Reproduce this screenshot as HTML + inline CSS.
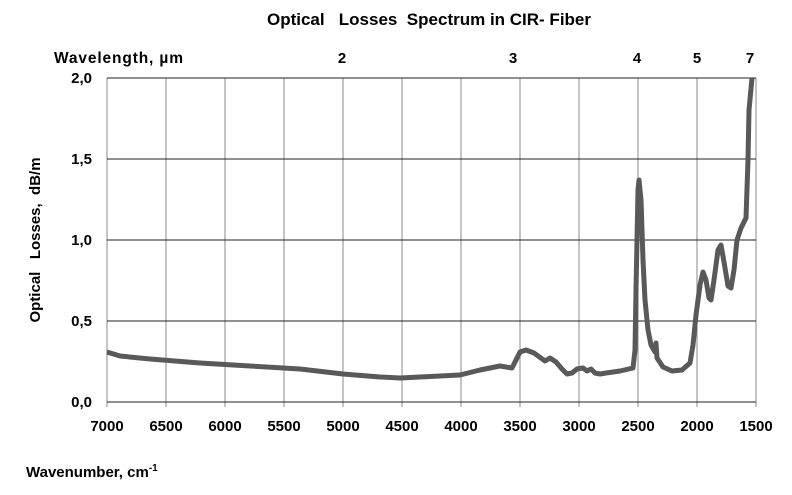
<!DOCTYPE html>
<html><head><style>
body{margin:0;background:#fff;}
svg text{font-family:"Liberation Sans",Arial,sans-serif;font-weight:bold;fill:#000;}
</style></head><body>
<svg width="792" height="490" xmlns="http://www.w3.org/2000/svg">
<rect width="792" height="490" fill="#fff"/>
<text x="429" y="25" font-size="17" text-anchor="middle" xml:space="preserve">Optical   Losses  Spectrum in CIR- Fiber</text>
<text x="54" y="63" font-size="15.5" textLength="129">Wavelength, µm</text>
<g font-size="15" text-anchor="middle">
<text x="342" y="63">2</text><text x="513" y="63">3</text><text x="637" y="63">4</text><text x="697" y="63">5</text><text x="750" y="63">7</text>
</g>
<g stroke="#888" stroke-width="1">
<line x1="166" y1="78" x2="166" y2="407"/><line x1="225" y1="78" x2="225" y2="407"/><line x1="284" y1="78" x2="284" y2="407"/><line x1="343" y1="78" x2="343" y2="407"/><line x1="402" y1="78" x2="402" y2="407"/><line x1="461" y1="78" x2="461" y2="407"/><line x1="520" y1="78" x2="520" y2="407"/><line x1="579" y1="78" x2="579" y2="407"/><line x1="638" y1="78" x2="638" y2="407"/><line x1="697" y1="78" x2="697" y2="407"/><line x1="756" y1="78" x2="756" y2="407"/><line x1="107" y1="78" x2="107" y2="407"/>
</g>
<g stroke="#222" stroke-width="1">
<line x1="107" y1="78" x2="756" y2="78"/><line x1="107" y1="159" x2="756" y2="159"/><line x1="107" y1="240" x2="756" y2="240"/><line x1="107" y1="321" x2="756" y2="321"/><line x1="107" y1="402" x2="756" y2="402"/>
</g>
<g font-size="15" text-anchor="end">
<text x="92" y="83">2,0</text><text x="92" y="164">1,5</text><text x="92" y="245">1,0</text><text x="92" y="326">0,5</text><text x="92" y="407">0,0</text>
</g>
<g font-size="15" text-anchor="middle">
<text x="107" y="431">7000</text><text x="166" y="431">6500</text><text x="225" y="431">6000</text><text x="284" y="431">5500</text><text x="343" y="431">5000</text><text x="402" y="431">4500</text><text x="461" y="431">4000</text><text x="520" y="431">3500</text><text x="579" y="431">3000</text><text x="638" y="431">2500</text><text x="697" y="431">2000</text><text x="756" y="431">1500</text>
</g>
<text x="26" y="477" font-size="15">Wavenumber, cm<tspan font-size="10" dy="-6">-1</tspan></text>
<text transform="translate(40,240) rotate(-90)" font-size="15" text-anchor="middle" xml:space="preserve">Optical   Losses,  dB/m</text>
<polyline fill="none" stroke="#595959" stroke-width="5" stroke-linejoin="round" points="107,352 120,356 150,359 200,363 250,366 300,369 343,374 380,377 400,378 420,377 440,376 460,375 480,370 500,366 512,368 516,360 520,352 526,350 534,353 545,361 550,358 556,362 562,369 567,374 572,373 577,369 583,368 587,371 591,369 595,373 600,374 606,373 620,371 633,368 635,350 636,290 638,190 639,180 641,200 643,260 645,300 648,330 651,345 655,352 656,343 657,358 663,367 672,371 682,370 690,363 693,345 696,315 700,285 703,272 706,280 709,298 711,300 714,280 718,250 721,245 724,262 728,286 731,288 734,270 737,240 741,228 746,218 748,160 749,110 752,78"/>
</svg>
</body></html>
